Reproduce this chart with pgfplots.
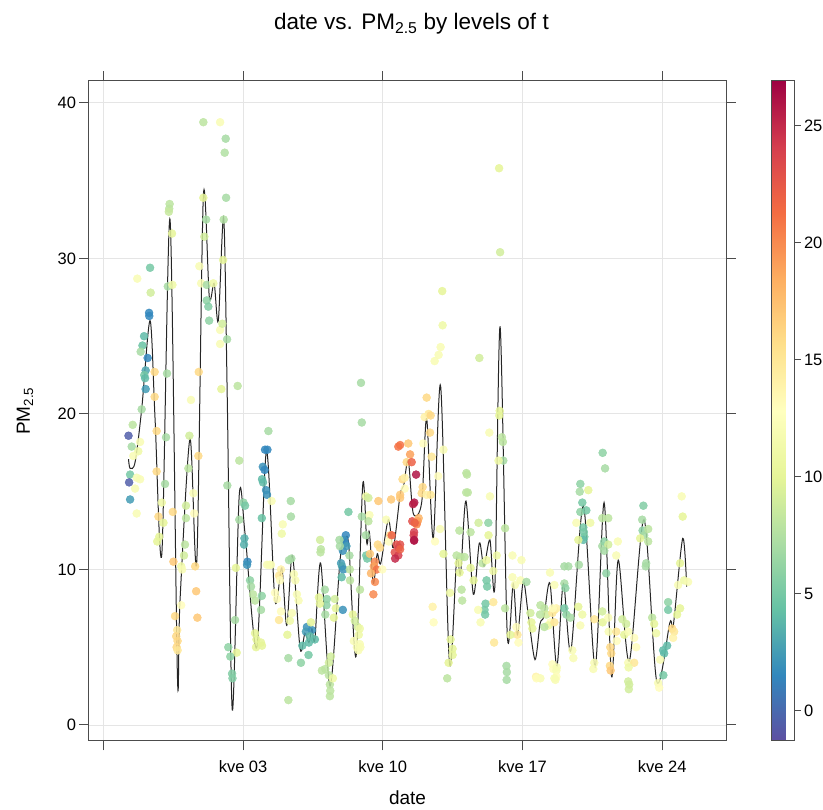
\documentclass[border=0pt]{standalone}
\usepackage{fontspec}
\setmainfont{Liberation Sans}
\usepackage{pgfplots}
\pgfplotsset{compat=1.18}
\usepackage{pgfplotstable}

% day of May (kve 03 = 3), PM2.5, temperature t
\pgfplotstableread{
d p t
1.01 38.76 8
1.85 38.76 12
2.13 37.7 7
2.08 36.8 7.5
-0.68 33.5 8
-0.70 33.2 8
-0.72 33.0 8.5
1.01 33.9 10
2.15 33.9 7
1.15 32.5 7
2.03 32.5 7.5
-0.56 31.6 10
1.06 31.4 9
2.00 29.9 10
-1.66 29.4 5
0.81 29.5 12
-2.30 28.7 12
-0.77 28.2 7
-0.54 28.3 11
0.90 28.4 12
1.18 28.3 7
1.51 28.4 11
-1.63 27.8 9
1.18 27.3 6
1.26 26.9 5.5
1.30 26.0 6
1.85 25.4 12
1.96 25.8 9
1.85 24.5 12
2.20 24.8 7
-1.71 26.5 1.5
-1.70 26.3 1.5
-1.96 25.0 4
-2.04 24.4 4.5
-2.13 24.0 7
-1.78 23.6 1.5
-1.88 22.8 3
-1.95 22.5 5
-1.91 22.3 4
-1.43 22.7 16
-0.81 22.6 7
0.78 22.7 16
-1.88 21.6 2.5
-1.43 21.1 16
0.39 20.9 12
1.91 21.6 10
2.73 21.8 8
-2.08 20.3 7
-2.53 19.3 8
-2.74 18.6 -0.5
-2.58 17.9 7
-2.16 18.2 12
-2.25 17.6 11
-2.50 17.3 12
-1.33 18.9 16
-0.86 18.5 7
0.31 18.6 9
0.76 17.3 16
-1.33 16.3 16
-0.91 15.5 7
0.26 16.5 8
-2.66 16.1 5
-2.71 15.6 -0.5
-2.33 15.9 12
-2.16 15.8 12
-2.41 15.2 12
-2.66 14.5 2.5
-2.33 13.6 12
-1.07 14.3 11
-0.52 13.7 16
0.14 14.1 9
0.51 14.9 12
-1.24 13.4 16
-0.99 13.0 10
0.14 13.3 8
0.55 13.6 13
-1.20 12.1 10
-1.30 11.8 10
0.09 11.6 8
-0.49 10.5 17
0.04 10.9 9
-0.10 10.2 11
-0.05 10.0 12
0.60 10.2 16
0.65 8.6 17
0.71 6.9 17
-0.10 7.7 13
-0.41 7.0 16
-0.30 6.1 15
-0.35 5.7 16
-0.28 5.4 16
-0.33 5.0 16
-0.28 4.8 15
2.81 17.0 8
2.21 15.4 7
3.02 14.3 6
3.10 14.1 5
2.81 13.2 7
3.07 12.0 3.5
3.05 11.6 3.5
3.22 10.5 1.5
3.20 10.3 2
2.64 10.1 10
3.35 9.3 6
3.40 8.9 7
3.50 8.4 8
3.60 8.0 8
3.94 8.3 6
3.90 7.4 7
3.60 5.9 10
3.67 5.5 10
3.65 5.0 10
2.60 6.75 7
2.26 5.0 6
2.68 4.65 10
2.36 4.4 6
2.45 3.3 5.5
2.47 3.0 5.5
4.27 18.9 7
4.10 17.7 1.5
4.22 17.7 1.5
3.99 16.6 2
4.00 15.6 4
4.15 15.1 2
4.20 14.8 2
3.94 13.3 4.5
4.32 10.3 12
8.91 22.0 7
8.95 19.45 7
4.08 16.4 1.5
3.95 15.8 4
4.43 14.4 12
5.39 14.4 7
5.40 13.4 7
4.99 12.9 12
4.94 12.3 11
8.28 13.7 5
6.86 11.9 9
6.90 11.3 8
6.88 11.1 8
8.15 12.2 1.5
8.05 11.9 2
8.12 11.7 1.5
8.18 11.5 2.5
8.00 11.2 2
7.83 11.9 7
7.85 11.5 7
7.91 10.4 2.5
7.96 10.2 3
8.03 10.0 2
7.94 9.5 4
8.33 10.9 7
8.36 9.3 8
9.16 14.7 11
9.33 13.5 12
9.28 13.1 8
8.95 13.4 7
9.15 12.2 7
9.17 10.9 5
9.22 10.7 5
8.86 8.7 8
9.36 11.0 17
9.75 11.6 16
9.85 11.4 16
9.60 10.5 20
9.55 10.2 19
9.70 10.0 21
9.41 9.75 18
9.61 9.2 20
9.53 8.4 20
9.98 10.0 13
10.17 13.2 12
10.37 12.2 16
10.30 11.8 13
9.78 14.4 17
10.42 14.5 17
10.87 14.6 17
9.28 14.6 9
10.78 17.9 21
11.28 18.1 17
11.37 17.4 19
11.20 16.9 16
10.99 15.8 16
11.10 15.9 14
11.10 15.2 13
11.67 16.1 26
11.58 14.3 26
11.52 14.2 25.5
11.48 13.1 23
11.70 13.0 21
11.57 12.4 24
11.57 11.85 26
10.70 11.6 23
10.80 11.4 24
10.60 11.1 23
10.78 10.9 24
10.62 10.7 25
10.45 12.2 22
4.90 10.0 14
4.80 9.6 15
4.85 9.3 13
4.40 10.3 12
4.20 10.3 12
4.60 8.5 13
4.70 8.1 13
4.80 6.75 15
4.90 7.3 13
3.90 5.3 10
3.95 5.1 10
5.30 10.6 7
5.42 10.7 7
5.55 9.7 12
5.62 9.3 12
5.70 8.4 12
5.78 8.0 12
5.45 7.2 12
5.35 6.7 11
5.22 5.8 10
5.97 5.1 4
6.30 5.3 4
6.28 4.5 5
5.90 4.0 6
6.20 6.3 2
6.15 6.0 2.5
6.45 6.1 2
6.60 5.5 4
6.35 5.7 4
5.27 4.3 7
5.27 1.6 8
6.40 6.6 10
7.10 8.7 7
7.20 8.1 6
7.18 7.7 6
7.12 7.1 7
6.80 8.2 10
6.85 7.8 10
7.60 8.1 9
7.65 7.5 10
7.55 6.9 10
7.40 4.4 9
7.30 4.0 9
7.12 3.6 8
6.95 3.5 8
7.30 3.2 8
7.35 2.6 8
7.37 2.2 8
7.35 1.85 8
7.50 3.0 11
8.00 7.4 2
8.50 7.1 10
8.60 6.7 9
8.75 6.3 9
8.55 5.4 12
8.70 5.0 12
8.78 4.8 12
8.85 6.2 11
8.80 5.8 11
8.85 5.2 12
8.88 5.0 12
8.35 10.0 8
12.98 27.9 10
13.00 25.7 11
12.90 24.3 12
12.80 23.8 12
12.60 23.4 12
14.84 23.6 9
12.20 21.05 16
12.30 20.0 15
12.10 19.8 14
12.40 19.9 16
15.86 20.2 10
15.84 19.9 10
15.34 18.8 12
15.97 18.5 8
16.02 18.2 8
12.37 18.8 16
12.03 18.1 13
10.87 18.0 21
11.45 16.9 22
13.04 17.7 12
12.45 17.25 15
16.04 17.0 7
15.80 17.0 11
14.19 16.2 8
14.22 16.1 8
12.78 16.0 13
12.00 15.3 16
11.95 14.9 16
12.20 14.8 14
12.40 14.8 15
14.18 14.95 8
14.26 14.95 8
15.37 14.7 12
10.87 14.8 17
11.80 13.3 18
11.75 13.1 19
11.70 12.9 20
11.60 13.0 22
11.55 12.2 24
11.57 11.9 26
10.87 11.6 23
10.87 11.3 22
12.62 11.8 13
12.87 12.6 12
13.04 11.0 10
14.80 13.0 9
15.29 13.0 6
13.84 12.5 8
14.40 12.4 8
15.30 12.2 10
16.13 12.65 8
13.70 10.9 8
13.90 10.8 8
14.10 10.8 8
13.80 10.4 10
13.85 9.8 10
15.00 10.4 8
15.20 10.6 11
15.20 9.3 5
15.23 8.9 5
15.15 7.8 5
15.10 7.4 5
15.13 7.1 5
14.78 7.4 12
14.90 6.6 12
13.95 8.7 8
13.98 8.0 8
14.40 10.1 10
14.55 9.3 10
15.54 7.9 15
13.37 8.5 11
12.50 7.6 14
12.55 6.6 13
15.71 10.9 11
15.54 9.9 11
16.50 10.9 12
16.95 10.6 12
16.50 9.5 12
16.62 9.0 12
16.90 9.3 12
17.20 9.2 7
16.13 7.5 8
16.70 6.3 13
16.75 5.8 15
16.80 5.3 13
16.40 5.8 10
17.40 7.2 9
17.45 6.6 10
17.50 6.2 10
18.10 7.5 8
18.20 7.1 9
18.40 6.6 13
18.30 6.4 11
18.60 7.4 15
18.70 7.5 14
13.40 5.5 10
13.50 4.9 10
13.50 4.5 10
13.30 4.0 10
13.23 3.0 8
16.20 3.8 7
16.22 3.4 7
16.21 2.9 7
15.58 5.3 15
17.68 3.1 14
18.50 3.9 13
18.55 3.6 13
18.70 3.5 12
15.83 35.8 10
15.88 30.4 9
21.02 17.5 6
21.14 16.5 7
24.98 14.7 12
25.03 13.4 10
19.90 15.5 6
19.87 15.0 7
20.30 15.1 10
20.00 14.3 5
19.90 13.7 6
20.20 13.8 5
19.70 13.0 12
20.40 13.0 11
20.05 12.7 5
20.08 12.4 5
20.10 12.1 5
20.05 11.9 4
19.80 11.9 10
21.00 13.3 8
21.30 13.3 8
21.00 11.5 7
21.10 11.8 6
21.30 11.6 9
21.10 11.2 7
21.78 11.8 12
23.06 14.1 5.5
23.00 13.2 7
23.02 12.5 6
23.10 12.2 7
23.30 12.6 8
22.90 12.0 10
23.30 11.8 8
23.20 10.4 7
23.18 10.2 7
21.70 10.9 12
21.20 9.75 6
19.83 10.3 7
19.10 10.2 7
19.30 10.2 7
18.38 9.8 12
19.10 9.1 7
19.15 8.8 6
18.60 9.0 12
17.90 7.7 8
17.88 7.1 8
18.10 6.3 8
18.50 7.2 15
18.60 6.6 15
18.52 7.5 13
19.10 7.5 5
19.20 7.1 6
19.40 6.9 7
19.80 7.6 10
20.00 7.1 11
19.90 6.4 12
20.60 6.8 15
21.00 7.3 9
21.02 6.6 10
21.30 6.9 12
21.32 6.0 12
21.70 6.0 15
21.72 5.4 13
22.00 6.8 9
22.20 6.5 9
22.10 5.8 10
22.30 6.0 12
22.60 5.6 13
22.70 5.0 13
23.50 6.9 8
23.60 6.5 10
23.70 5.9 11
22.30 4.0 12
22.60 4.0 15
22.32 3.7 11
22.35 2.6 9
22.33 2.3 9
21.40 5.0 16
21.45 4.6 16
21.38 3.8 16
21.42 3.5 17
20.60 4.0 12
20.55 3.6 12
18.72 3.7 12
18.70 3.1 13
18.65 2.9 12
19.50 4.8 12
19.55 4.3 12
23.80 2.7 12
23.85 2.4 13
24.06 3.2 5
24.10 4.6 4
24.05 4.8 4
24.25 5.1 4
23.90 4.2 12
24.30 7.9 6
24.30 7.4 5
24.50 6.2 16
24.60 6.0 15
24.55 5.6 14
24.75 7.1 10
24.90 7.5 10
24.80 9.0 12
25.10 9.3 11
25.30 9.2 12
24.90 10.4 10
17.90 3.0 12
17.70 3.0 13
18.60 3.0 12
22.30 2.8 9
}\pmdata

% smoothed trend
\pgfplotstableread{
d p
-2.74 17.1
-2.66 16.5
-2.41 16.9
-2.08 20.3
-1.66 26.0
-1.41 19.7
-1.07 11.0
-0.66 32.5
-0.29 3.2
-0.16 8.0
0.34 18.4
0.68 10.5
1.01 34.0
1.31 27.5
1.55 28.4
1.76 26.0
2.03 32.6
2.21 20.9
2.46 0.96
2.81 14.8
3.10 12.3
3.69 5.0
4.17 17.6
4.60 8.0
4.94 10.1
5.19 6.4
5.47 10.9
5.86 4.9
6.10 5.9
6.30 5.3
6.45 6.2
6.60 5.5
6.89 10.4
7.36 2.5
7.86 10.6
8.11 11.9
8.30 11.5
8.66 4.4
9.00 15.5
9.20 11.7
9.33 12.4
9.53 9.1
9.72 11.0
9.90 10.4
10.28 13.2
10.53 11.4
10.87 14.8
11.05 15.4
11.28 17.0
11.53 13.6
11.95 14.3
12.20 19.7
12.53 12.0
12.90 21.8
13.34 4.0
13.70 10.6
13.90 9.75
14.17 14.4
14.54 8.4
14.84 11.7
15.07 10.2
15.37 11.9
15.62 9.0
15.88 25.6
16.24 5.8
16.54 9.1
16.75 5.8
17.04 9.2
17.30 7.0
17.63 4.2
17.88 6.5
18.08 7.0
18.38 9.1
18.72 3.75
19.05 9.1
19.43 4.8
20.05 14.1
20.64 3.75
21.09 14.3
21.47 3.1
21.80 10.6
22.35 4.1
23.09 13.2
23.73 2.8
24.39 6.6
24.56 6.4
25.03 12.0
25.23 8.9
}\trend

\begin{document}
\begin{tikzpicture}
\begin{axis}[
    scale only axis,
    width=637pt, height=660pt,
    xmin=-4.72, xmax=27.2,
    ymin=-1.03, ymax=41.41,
    xtick={-4,3,10,17,24},
    xticklabels={{},kve 03,kve 10,kve 17,kve 24},
    ytick={0,10,20,30,40},
    tick pos=both,
    xticklabel pos=lower, yticklabel pos=left,
    tick align=outside,
    major tick length=9.5pt,
    grid=major,
    major grid style={draw=black!10, line width=0.9pt},
    axis line style={draw=black!70, line width=1pt},
    every tick/.style={draw=black!70, line width=1pt},
    tick label style={font=\fontsize{16.5}{19}\selectfont},
    xticklabel style={yshift=-7pt},
    /pgf/number format/assume math mode=true,
    title={date vs. PM\textsubscript{2.5} by levels of t},
    title style={font=\fontsize{22.5}{26}\selectfont, at={(axis description cs:0.5,1.078)}, anchor=center, xshift=4pt},
    xlabel={date},
    xlabel style={font=\fontsize{19}{22}\selectfont, at={(axis description cs:0.5,-0.0864)}, anchor=center},
    ylabel={PM\textsubscript{2.5}},
    ylabel style={font=\fontsize{19}{22}\selectfont, at={(axis description cs:-0.1005,0.5)}, anchor=center},
    colormap={spectral}{rgb255=(94,79,162) rgb255=(50,136,189) rgb255=(102,194,165) rgb255=(171,221,164) rgb255=(230,245,152) rgb255=(255,255,191) rgb255=(254,224,139) rgb255=(253,174,97) rgb255=(244,109,67) rgb255=(213,62,79) rgb255=(158,1,66)},
    point meta min=-1.29, point meta max=26.9,
    colorbar,
    colorbar style={
        at={(parent axis.north east)}, anchor=north west, xshift=37pt,
        scale only axis, width=23pt, height=660pt,
        ytick={0,5,10,15,20,25},
        ytick pos=right, yticklabel pos=right,
        tick align=outside, major tick length=6pt,
        axis line style={draw=black!70, line width=1pt},
        every tick/.style={draw=black!70, line width=1pt},
        tick label style={font=\fontsize{16.5}{19}\selectfont},
        /pgf/number format/assume math mode=true,
    },
]
\addplot[scatter, only marks, mark=*, mark size=4pt, scatter src=explicit,
    opacity=0.85, scatter/use mapped color={draw=mapped color, fill=mapped color}]
    table[x=d, y=p, meta=t] {\pmdata};
\addplot[black!85, line width=1pt, smooth, tension=0.5] table[x=d, y=p] {\trend};
\end{axis}
\pgfresetboundingbox
\path[use as bounding box] (-89pt,-69pt) rectangle (734pt,741pt);
\end{tikzpicture}
\end{document}
